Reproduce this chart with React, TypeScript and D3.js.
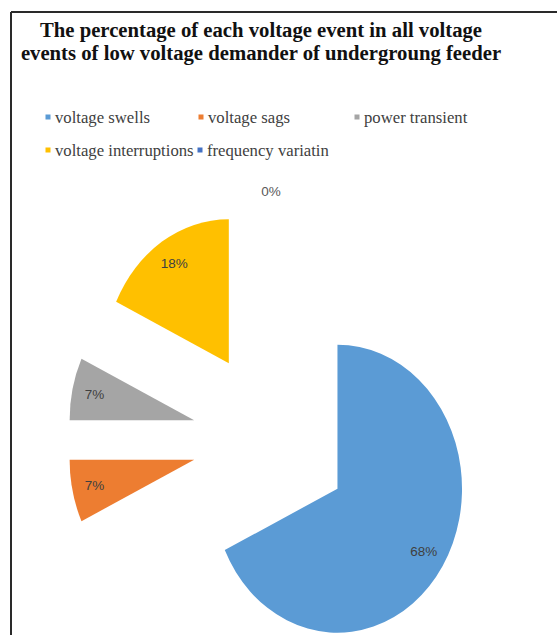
import React from "react";
import * as d3 from "d3";

const categories = ["voltage swells", "voltage sags", "power transient", "voltage interruptions", "frequency variatin"];
const values = [68, 7, 7, 18, 0];
const colors = ["#5B9BD5", "#ED7D31", "#A5A5A5", "#FFC000", "#4472C4"];
const titleLines = [
  "The percentage of each voltage event in all voltage",
  "events of low voltage demander of undergroung feeder",
];

const W = 557;
const H = 635;

export default function App() {
  const cx = 271;
  const cy = 440;
  const R = 144;
  const sx = 0.865;
  const explode = 91;
  const labelR = 118;

  const pie = d3.pie<number>().sort(null).value((d) => d).startAngle(0).endAngle(2 * Math.PI);
  const arcs = pie(values);
  const arcGen = d3.arc<d3.PieArcDatum<number>>().innerRadius(0).outerRadius(R);

  const legendRows = [
    [0, 1, 2],
    [3, 4],
  ];
  const colX = [48, 201, 357];
  const rowY = [117, 150];
  const legendXRow2 = [48, 200];

  return (
    <svg
      width={W}
      height={H}
      style={{ position: "absolute", left: 0, top: 0, background: "#fff" }}
    >
      <rect x={0} y={0} width={W} height={H} fill="#fff" />
      <line x1={11} y1={12} x2={W} y2={12} stroke="#2a2a2a" strokeWidth={2} />
      <line x1={11} y1={12} x2={11} y2={H} stroke="#2a2a2a" strokeWidth={2} />
      {titleLines.map((t, i) => (
        <text
          key={i}
          x={261}
          y={37 + i * 23}
          textAnchor="middle"
          fontFamily="'Liberation Serif', 'DejaVu Serif', serif"
          fontWeight="bold"
          fontSize={20.7}
          fill="#111"
        >
          {t}
        </text>
      ))}
      {legendRows.map((row, ri) =>
        row.map((idx, ci) => {
          const x = ri === 0 ? colX[ci] : legendXRow2[ci];
          const y = rowY[ri];
          return (
            <g key={idx}>
              <rect x={x - 2.5} y={y - 2.5} width={5} height={5} fill={colors[idx]} />
              <text
                x={x + 7}
                y={y}
                dominantBaseline="central"
                fontFamily="'Liberation Serif', serif"
                fontSize={16.7}
                fill="#404040"
              >
                {categories[idx]}
              </text>
            </g>
          );
        })
      )}
      <g transform={`translate(${cx},${cy})`}>
        <g transform={`scale(${sx},1)`}>
          {arcs.map((a, i) => {
            const mid = (a.startAngle + a.endAngle) / 2;
            const dx = explode * Math.sin(mid);
            const dy = -explode * Math.cos(mid);
            return a.value > 0 ? (
              <path
                key={i}
                d={arcGen(a) || ""}
                transform={`translate(${dx},${dy})`}
                fill={colors[i]}
              />
            ) : null;
          })}
        </g>
        {arcs.map((a, i) => {
          const mid = (a.startAngle + a.endAngle) / 2;
          const dist = a.value > 0 ? explode + labelR : explode + R + 14;
          const lx = dist * Math.sin(mid) * sx;
          const ly = -dist * Math.cos(mid);
          return (
            <text
              key={"l" + i}
              x={lx}
              y={ly}
              textAnchor="middle"
              dominantBaseline="central"
              fontFamily="'Liberation Sans', Arial, sans-serif"
              fontSize={13.5}
              fill={a.value > 0 ? "#404040" : "#595959"}
            >
              {`${a.value}%`}
            </text>
          );
        })}
      </g>
    </svg>
  );
}
